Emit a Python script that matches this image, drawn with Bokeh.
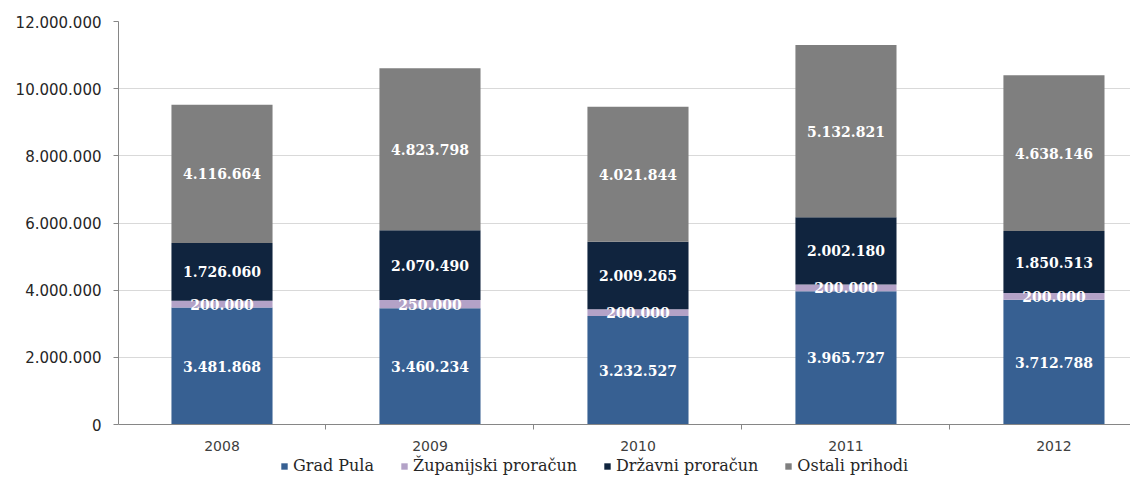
from bokeh.plotting import figure
from bokeh.models import (ColumnDataSource, Range1d, FixedTicker, CustomJSTickFormatter,
                          Legend, LegendItem)
from bokeh.core.properties import value
from bokeh.embed import file_html
from bokeh.resources import INLINE

years = ["2008", "2009", "2010", "2011", "2012"]
grad_pula = [3481868, 3460234, 3232527, 3965727, 3712788]
zupanijski = [200000, 250000, 200000, 200000, 200000]
drzavni = [1726060, 2070490, 2009265, 2002180, 1850513]
ostali = [4116664, 4823798, 4021844, 5132821, 4638146]

series_names = ["Grad Pula", "Županijski proračun", "Državni proračun", "Ostali prihodi"]
series_keys = ["grad", "zup", "drz", "ost"]
colors = ["#376092", "#B3A2C7", "#10243E", "#7F7F7F"]
y_ticks = [0, 2000000, 4000000, 6000000, 8000000, 10000000, 12000000]

xs = list(range(len(years)))
src = ColumnDataSource(dict(x=xs, grad=grad_pula, zup=zupanijski, drz=drzavni, ost=ostali))

# frame spans figure y 21..475; value 0 sits at y=424 (403 px per 12M)
y_bottom = -12000000 * 51 / 403
p = figure(width=1130, height=475, output_backend="svg", toolbar_location=None,
           x_range=Range1d(-0.4976, 4.368), y_range=Range1d(y_bottom, 12000000),
           min_border_left=118, min_border_right=0, min_border_top=21, min_border_bottom=0)
p.outline_line_color = None
p.background_fill_color = "white"
p.border_fill_color = "white"

renderers = p.vbar_stack(series_keys, x="x", width=0.486, color=colors, source=src,
                         line_color=None)

# data labels at segment midpoints
lx, ly, lt = [], [], []
for i in xs:
    base = 0
    for arr in (grad_pula, zupanijski, drzavni, ostali):
        v = arr[i]
        lx.append(i)
        ly.append(base + v / 2)
        lt.append(f"{v:,}".replace(",", "."))
        base += v
lsrc = ColumnDataSource(dict(x=lx, y=ly, t=lt))
p.text(x="x", y="y", text="t", source=lsrc, text_color="white",
       text_font=value("DejaVu Serif"), text_font_style="bold", text_font_size="14px",
       text_align="center", text_baseline="middle")

# axes
p.xaxis.fixed_location = 0
p.xaxis.ticker = FixedTicker(ticks=xs, minor_ticks=[0.5, 1.5, 2.5, 3.5])
p.xaxis.major_label_overrides = {i: y for i, y in enumerate(years)}
p.xaxis.major_tick_line_color = None
p.xaxis.minor_tick_out = 5
p.xaxis.minor_tick_in = 0
p.xaxis.minor_tick_line_color = "#868686"
p.xaxis.axis_line_color = "#868686"
p.xaxis.major_label_text_font = "DejaVu Sans"
p.xaxis.major_label_text_font_size = "14px"
p.xaxis.major_label_text_color = "#404040"
p.xaxis.major_label_standoff = 10

p.yaxis.bounds = (0, 12000000)
p.yaxis.ticker = FixedTicker(ticks=y_ticks)
p.yaxis.formatter = CustomJSTickFormatter(
    code='return Math.round(tick).toString().replace(/\\B(?=(\\d{3})+(?!\\d))/g, ".");')
p.yaxis.axis_line_color = "#868686"
p.yaxis.major_tick_line_color = "#868686"
p.yaxis.major_tick_out = 5
p.yaxis.major_tick_in = 0
p.yaxis.minor_tick_line_color = None
p.yaxis.major_label_text_font = "DejaVu Sans"
p.yaxis.major_label_text_font_size = "15px"
p.yaxis.major_label_text_color = "#262626"
p.yaxis.major_label_standoff = 12

p.xgrid.grid_line_color = None
p.ygrid.grid_line_color = "#D9D9D9"

items = [LegendItem(label=n, renderers=[r]) for n, r in zip(series_names, renderers)]
legend = Legend(items=items, orientation="horizontal", location=(162, 0),
                glyph_width=8, glyph_height=8, label_standoff=5, spacing=26,
                padding=0, margin=0, border_line_color=None, background_fill_alpha=0,
                label_text_font="DejaVu Serif", label_text_font_size="16px",
                label_text_color="#262626", label_height=18)
p.add_layout(legend)

open("out.html", "w").write(file_html(p, INLINE))
